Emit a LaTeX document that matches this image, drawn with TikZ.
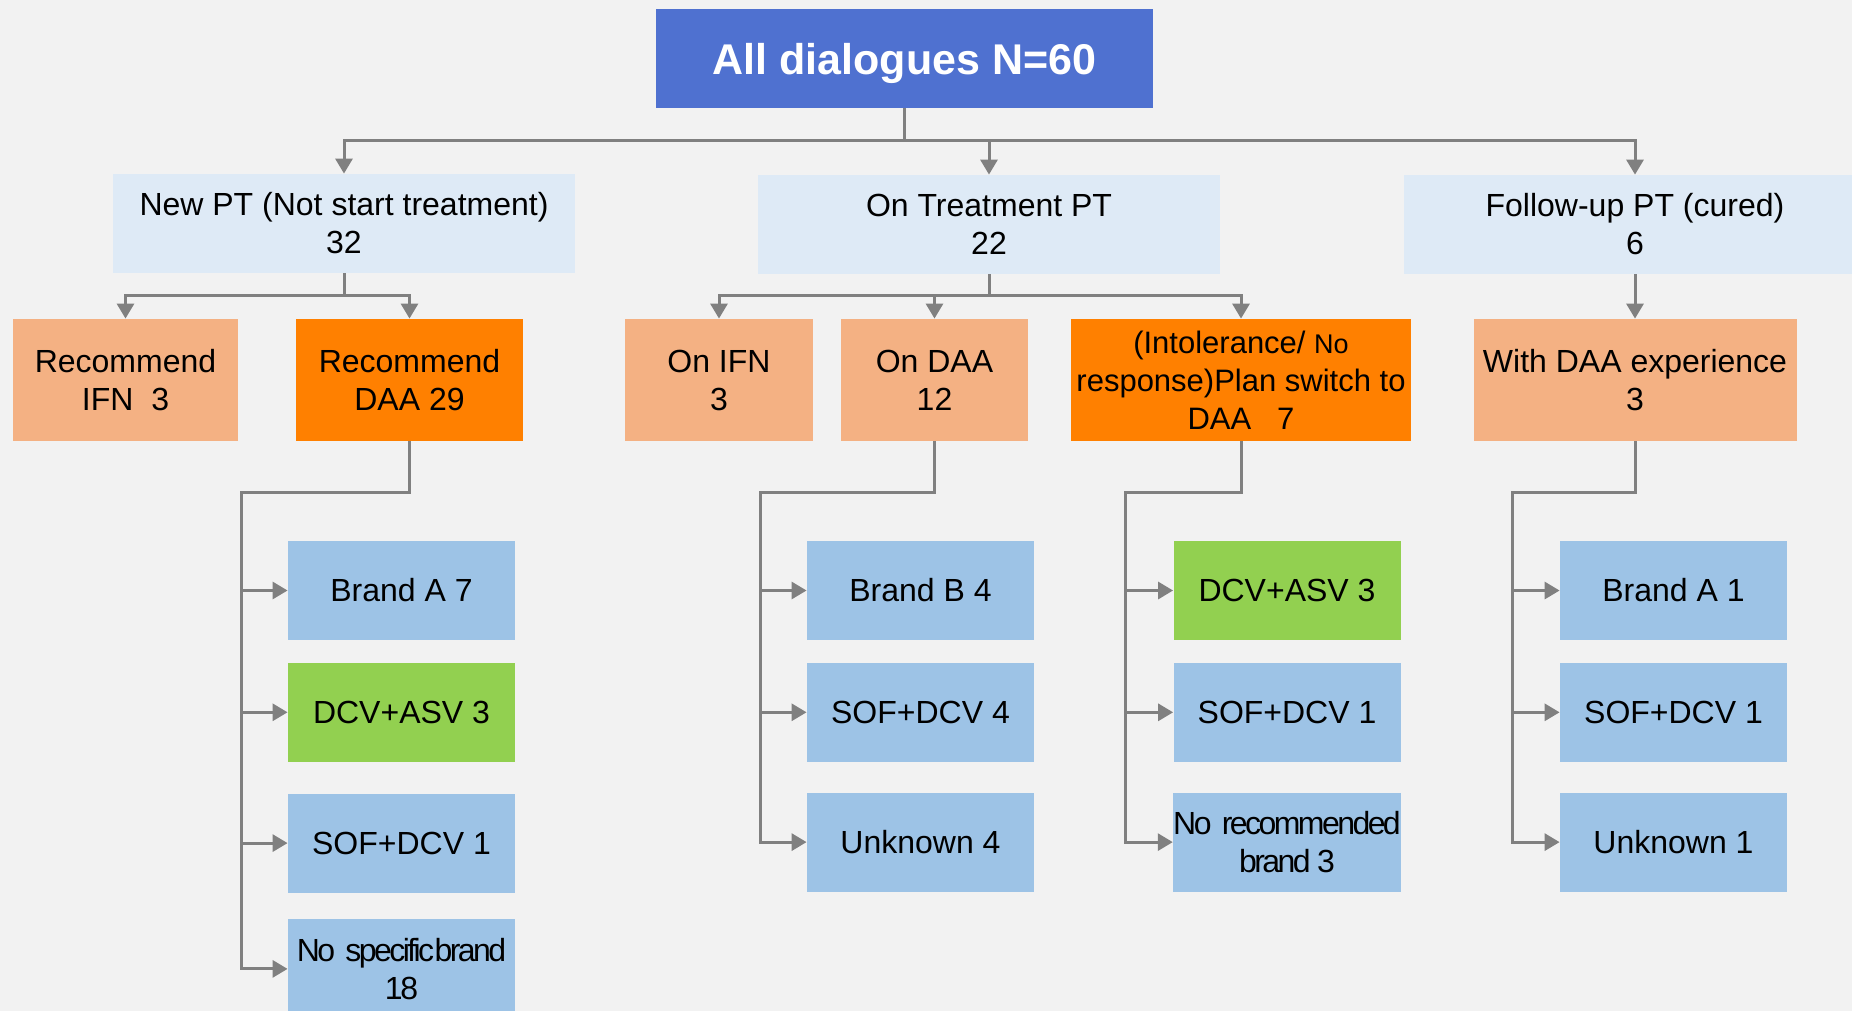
\documentclass[tikz,border=0pt]{standalone}
\usepackage{fontspec}
\setmainfont{Liberation Sans}
\usetikzlibrary{positioning,arrows.meta}
\definecolor{bg}{HTML}{F2F2F2}
\definecolor{topblue}{HTML}{4F71D0}
\definecolor{paleblue}{HTML}{DEEAF6}
\definecolor{salmon}{HTML}{F4B183}
\definecolor{hotorange}{HTML}{FF8000}
\definecolor{leafblue}{HTML}{9DC3E6}
\definecolor{leafgreen}{HTML}{92D050}
\definecolor{linegray}{HTML}{808080}

\begin{document}
\begin{tikzpicture}[x=0.5pt,y=-0.5pt,
  box/.style = {inner sep=0pt, align=center, font=\fontsize{16}{19}\selectfont},
  head/.style = {box, fill=topblue, text=white, minimum width=248.5pt, minimum height=49.5pt, text depth=0pt, font=\fontsize{21.5}{26}\selectfont\bfseries},
  group/.style = {box, fill=paleblue, minimum width=231pt, minimum height=49.5pt},
  plan/.style = {box, fill=salmon, minimum height=61pt},
  hot/.style = {plan, fill=hotorange},
  brand/.style = {box, fill=leafblue, minimum width=113.5pt, minimum height=49.5pt},
  tight/.style = {font=\fontsize{16}{19}\selectfont\addfontfeatures{LetterSpace=-8}},
  conn/.style = {draw=linegray, line width=1.5pt, -{Triangle[length=7.5pt,width=8.5pt]}},
  node distance=11pt]
        \fill[bg] (0,0) rectangle (1852,1011);
        \useasboundingbox (0,0) rectangle (1852,1011);

        \node[head] (all) at (904.5,58.5) {All dialogues N=60};
        \node[group] (new) at (344,223.5) {New PT (Not start treatment)\\32};
        \node[group] (on) at (989,224.5) {On Treatment PT\\22};
        \node[group] (fu) at (1635,224.5) {Follow-up PT (cured)\\6};

        \node[plan, minimum width=112.5pt] (ifn) at (125.5,380) {Recommend\\IFN\ \ 3};
        \node[hot, minimum width=113.5pt] (daa) at (409.5,380) {Recommend\\DAA 29};
        \node[plan, minimum width=94pt] (onifn) at (719,380) {On IFN\\3};
        \node[plan, minimum width=93.5pt] (ondaa) at (934.5,380) {On DAA\\12};
        \node[hot, minimum width=170pt, font=\fontsize{15.5}{19}\selectfont] (switch) at (1241,380)
            {(Intolerance/ {\fontsize{13.5}{19}\selectfont No}\\response)Plan switch to\\DAA\ \ \ 7};
        \node[plan, minimum width=161.5pt] (exp) at (1635,380) {With DAA experience\\3};

        \node[brand] (a7) at (401.5,590.5) {Brand A 7};
        \node[brand, fill=leafgreen, below=of a7] (asv7) {DCV+ASV 3};
        \node[brand, below=15.5pt of asv7] (sof7) {SOF+DCV 1};
        \node[brand, tight, below=13pt of sof7] (nospec) {No\hspace{2pt} specific\hspace{-3pt} brand\\18};

        \node[brand] (b4) at (920.5,590.5) {Brand B 4};
        \node[brand, below=of b4] (sof4) {SOF+DCV 4};
        \node[brand, below=15pt of sof4] (unk4) {Unknown 4};

        \node[brand, fill=leafgreen] (asv3) at (1287,590.5) {DCV+ASV 3};
        \node[brand, below=of asv3] (sof3) {SOF+DCV 1};
        \node[brand, tight, below=15pt of sof3] (norec) {No\hspace{2pt} recommended\\brand 3};

        \node[brand] (a1) at (1673.5,590.5) {Brand A 1};
        \node[brand, below=of a1] (sof1) {SOF+DCV 1};
        \node[brand, below=15pt of sof1] (unk1) {Unknown 1};

        \coordinate (topj) at (904.5,141);
        \draw[conn] (all.south) -- (topj) -| (new.north);
        \draw[conn] (topj) -| (on.north);
        \draw[conn] (topj) -| (fu.north);

        \coordinate (newj) at (344,295);
        \draw[conn] (new.south) -- (newj) -| (ifn.north);
        \draw[conn] (newj) -| (daa.north);
        \coordinate (onj) at (989,295);
        \draw[conn] (on.south) -- (onj) -| (onifn.north);
        \draw[conn] (onj) -| (ondaa.north);
        \draw[conn] (onj) -| (switch.north);
        \draw[conn] (fu.south) -- (exp.north);

        \coordinate (daaj) at (241,492);
        \draw[conn] (daa.south) |- (daaj) |- (a7.west);
        \draw[conn] (daaj) |- (asv7.west);
        \draw[conn] (daaj) |- (sof7.west);
        \draw[conn] (daaj) |- (nospec.west);

        \coordinate (ondaaj) at (760,492);
        \draw[conn] (ondaa.south) |- (ondaaj) |- (b4.west);
        \draw[conn] (ondaaj) |- (sof4.west);
        \draw[conn] (ondaaj) |- (unk4.west);

        \coordinate (switchj) at (1125,492);
        \draw[conn] (switch.south) |- (switchj) |- (asv3.west);
        \draw[conn] (switchj) |- (sof3.west);
        \draw[conn] (switchj) |- (norec.west);

        \coordinate (expj) at (1512,492);
        \draw[conn] (exp.south) |- (expj) |- (a1.west);
        \draw[conn] (expj) |- (sof1.west);
        \draw[conn] (expj) |- (unk1.west);
\end{tikzpicture}
\end{document}
